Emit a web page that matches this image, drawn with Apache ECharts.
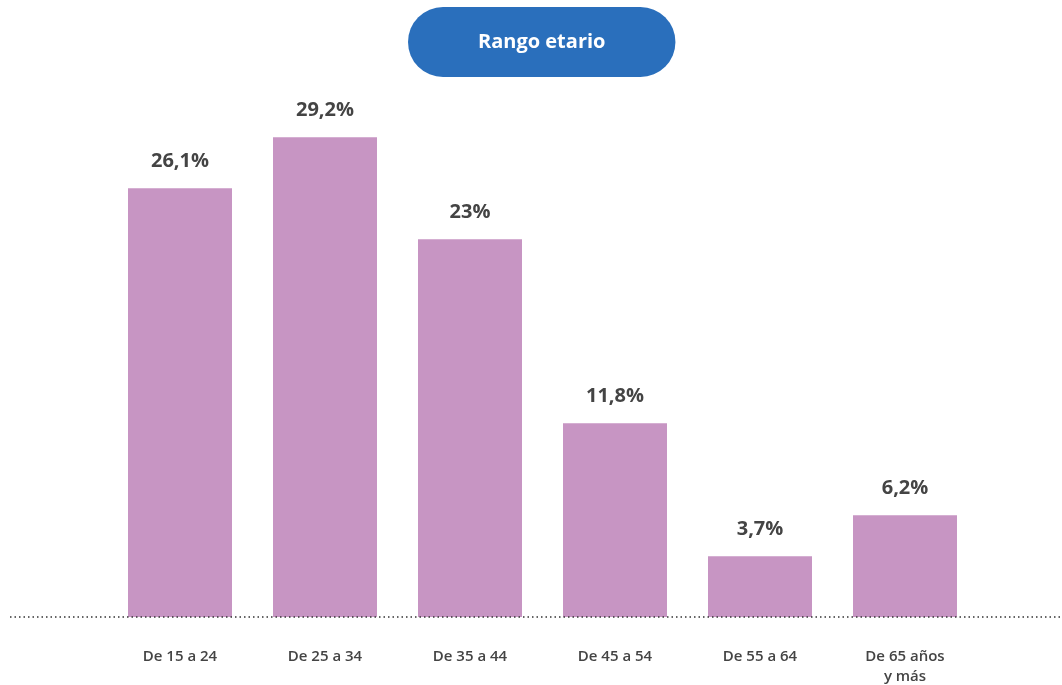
<!DOCTYPE html>
<html>
<head>
<meta charset="utf-8">
<script src="https://cdn.jsdelivr.net/npm/echarts@6/dist/echarts.min.js"></script>
<style>
  html, body { margin: 0; padding: 0; background: #fff; }
  #main { width: 1062px; height: 685px; }
</style>
</head>
<body>
<div id="main"></div>
<script>
var categories = ['De 15 a 24', 'De 25 a 34', 'De 35 a 44', 'De 45 a 54', 'De 55 a 64', 'De 65 años\ny más'];
var values = [26.1, 29.2, 23, 11.8, 3.7, 6.2];
var valueLabels = ['26,1%', '29,2%', '23%', '11,8%', '3,7%', '6,2%'];

var myChart = echarts.init(document.getElementById('main'));

var option = {
  backgroundColor: '#fff',
  animation: false,
  title: {
    text: 'Rango etario',
    left: 408,
    top: 7,
    backgroundColor: '#2a6fbc',
    borderRadius: 35,
    padding: [23, 70, 23, 70],
    textStyle: {
      color: '#fff',
      fontFamily: 'Open Sans',
      fontWeight: 'bold',
      fontSize: 20,
      lineHeight: 24
    }
  },
  grid: {
    left: 107.5,
    width: 870,
    top: 42,
    bottom: 68,
    containLabel: false,
    outerBoundsMode: 'none'
  },
  xAxis: {
    type: 'category',
    data: categories,
    axisLine: { show: false },
    axisTick: { show: false },
    axisLabel: {
      margin: 30,
      color: '#444',
      fontFamily: 'Open Sans',
      fontWeight: 600,
      fontSize: 15,
      lineHeight: 20,
      interval: 0
    }
  },
  yAxis: {
    type: 'value',
    min: 0,
    max: 35,
    show: false,
    splitLine: { show: false }
  },
  series: [{
    type: 'bar',
    data: values,
    barWidth: 104,
    itemStyle: { color: '#c795c3' },
    label: {
      show: true,
      position: 'top',
      distance: 17,
      color: '#444',
      fontFamily: 'Open Sans',
      fontWeight: 'bold',
      fontSize: 20,
      formatter: function (p) { return valueLabels[p.dataIndex]; }
    }
  }]
};

myChart.setOption(option);

// dotted baseline across the whole width
var y0 = myChart.convertToPixel({ yAxisIndex: 0 }, 0);
myChart.setOption({
  graphic: [{
    type: 'line',
    z: 10,
    shape: { x1: 10, y1: y0, x2: 1062, y2: y0 },
    style: { stroke: '#333', lineWidth: 1.5, lineDash: [1.5, 3] }
  }]
});
</script>
</body>
</html>
